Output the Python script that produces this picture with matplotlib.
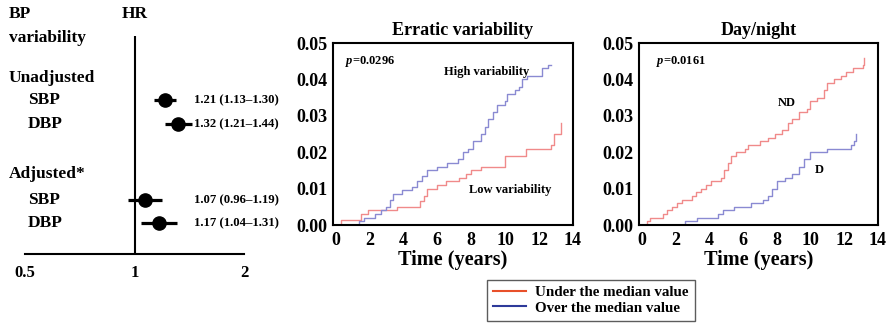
import matplotlib
matplotlib.use('Agg')
import matplotlib.pyplot as plt
from matplotlib.lines import Line2D
from matplotlib import transforms

plt.rcParams['font.family'] = ['Liberation Serif', 'DejaVu Serif']
plt.rcParams['font.weight'] = 'bold'
plt.rcParams['axes.titleweight'] = 'bold'
plt.rcParams['axes.labelweight'] = 'bold'
plt.rcParams['mathtext.fontset'] = 'custom'
plt.rcParams['mathtext.it'] = 'Liberation Serif:italic:bold'
plt.rcParams['mathtext.rm'] = 'Liberation Serif:bold'

# forest plot data
groups = ['Unadjusted', 'Adjusted*']
rows = ['SBP', 'DBP', 'SBP', 'DBP']
hr = [1.21, 1.32, 1.07, 1.17]
lo = [1.13, 1.21, 0.96, 1.04]
hi = [1.30, 1.44, 1.19, 1.31]
hr_ticks = [0.5, 1, 2]

# erratic variability curves (time in years, cumulative incidence)
low_t = [0, 0.3, 1.5, 1.9, 3.6, 5.0, 5.2, 5.4, 6.0, 6.5, 7.3, 7.7, 8.0, 8.6, 10.0, 11.2, 12.7, 12.9, 13.3]
low_y = [0, 0.0015, 0.003, 0.004, 0.005, 0.0065, 0.008, 0.010, 0.011, 0.012, 0.013, 0.014, 0.015, 0.016,
         0.019, 0.021, 0.022, 0.025, 0.028]
high_t = [0, 1.4, 1.7, 2.3, 2.7, 3.0, 3.2, 3.4, 3.9, 4.5, 4.8, 5.1, 5.4, 6.0, 6.6, 7.2, 7.5, 7.8, 8.1,
          8.6, 8.8, 9.0, 9.3, 9.5, 10.0, 10.1, 10.6, 10.8, 11.0, 11.3, 12.2, 12.5, 12.7]
high_y = [0, 0.001, 0.002, 0.003, 0.004, 0.005, 0.007, 0.0085, 0.0095, 0.0105, 0.012, 0.0135, 0.015,
          0.016, 0.017, 0.018, 0.020, 0.021, 0.023, 0.025, 0.027, 0.029, 0.031, 0.033, 0.034, 0.036,
          0.037, 0.038, 0.040, 0.041, 0.043, 0.044, 0.044]

# day/night curves
nd_t = [0, 0.3, 0.5, 1.3, 1.5, 1.8, 2.1, 2.4, 3.0, 3.2, 3.5, 3.8, 4.1, 4.7, 4.9, 5.1, 5.3, 5.6, 6.1,
        6.3, 7.0, 7.5, 7.9, 8.3, 8.7, 8.9, 9.3, 9.8, 10.0, 10.4, 10.8, 11.0, 11.4, 11.8, 12.1, 12.5,
        13.1, 13.2]
nd_y = [0, 0.001, 0.002, 0.003, 0.004, 0.005, 0.006, 0.007, 0.008, 0.009, 0.010, 0.011, 0.012, 0.013,
        0.015, 0.017, 0.019, 0.020, 0.021, 0.022, 0.023, 0.024, 0.025, 0.026, 0.028, 0.029, 0.031,
        0.032, 0.034, 0.035, 0.037, 0.039, 0.040, 0.041, 0.042, 0.043, 0.044, 0.046]
d_t = [0, 2.6, 3.3, 4.5, 4.8, 5.5, 6.5, 7.2, 7.5, 7.7, 8.0, 8.5, 8.9, 9.3, 9.6, 10.0, 11.0, 12.4,
       12.6, 12.7]
d_y = [0, 0.001, 0.002, 0.003, 0.004, 0.005, 0.006, 0.007, 0.008, 0.010, 0.012, 0.013, 0.014, 0.016,
       0.018, 0.020, 0.021, 0.022, 0.023, 0.025]

red_line = '#f08a8a'
blue_line = '#8a8ad2'
red_leg = '#e8502a'
blue_leg = '#2e3a9a'

fig = plt.figure(figsize=(8.9, 3.23), dpi=100)

# ---- forest plot ----
ax0 = fig.add_axes([25/890, 1-254/323, 219/890, 218/323])
ax0.set_xscale('log', base=2)
ax0.set_xlim(0.5, 2)
ax0.set_ylim(218/24, 0)
ypos = [2.67, 3.67, 6.83, 7.79]
blend = transforms.blended_transform_factory(ax0.transAxes, ax0.transData)
for i in range(len(hr)):
    ax0.plot([lo[i], hi[i]], [ypos[i], ypos[i]], color='black', lw=2.3, solid_capstyle='butt')
    ax0.plot(hr[i], ypos[i], 'o', color='black', ms=9.5)
    ax0.text(0.772, ypos[i], f'{hr[i]:.2f} ({lo[i]:.2f}\u2013{hi[i]:.2f})', transform=blend,
             fontsize=9.2, va='center', ha='left')
ax0.axvline(1, color='black', lw=1.5)
for s in ['top', 'right', 'left']:
    ax0.spines[s].set_visible(False)
ax0.spines['bottom'].set_linewidth(1.5)
ax0.set_yticks([])
ax0.set_xticks(hr_ticks)
ax0.set_xticklabels(['0.5', '1', '2'])
ax0.minorticks_off()
ax0.tick_params(axis='x', length=0, pad=8, labelsize=12)

tr = transforms.blended_transform_factory(fig.transFigure, ax0.transData)
fig.text(0.0101, -0.9, 'BP', transform=tr, fontsize=12.5, va='center')
fig.text(0.0101, 0.09, 'variability', transform=tr, fontsize=12.5, va='center')
ax0.text(1, -0.9, 'HR', fontsize=12.5, va='center', ha='center')
fig.text(0.0101, 1.75, groups[0], transform=tr, fontsize=12.5, va='center')
fig.text(0.0101, 5.75, groups[1], transform=tr, fontsize=12.5, va='center')
for i, r in enumerate(rows):
    fig.text(0.0315, ypos[i], r, transform=tr, fontsize=12.5, va='center')


def km_axes(rect, title, title_x):
    ax = fig.add_axes(rect)
    ax.set_xlim(-0.15, 14)
    ax.set_ylim(0, 0.05)
    ax.set_xticks(range(0, 15, 2))
    ax.set_yticks([0, 0.01, 0.02, 0.03, 0.04, 0.05])
    ax.set_yticklabels(['0.00', '0.01', '0.02', '0.03', '0.04', '0.05'])
    ax.tick_params(length=0, labelsize=13)
    ax.tick_params(axis='x', pad=5)
    ax.tick_params(axis='y', pad=4)
    for s in ax.spines.values():
        s.set_linewidth(1.5)
    ax.set_xlabel('Time (years)', fontsize=14.6, labelpad=1)
    ax.set_title(title, fontsize=13, x=title_x, pad=6)
    return ax


# ---- erratic variability ----
ax1 = km_axes([333/890, 1-225/323, 240/890, 182/323], 'Erratic variability', 0.54)
ax1.plot(low_t, low_y, drawstyle='steps-post', color=red_line, lw=1)
ax1.plot(high_t, high_y, drawstyle='steps-post', color=blue_line, lw=1)
ax1.text(0.05, 0.9, r'$p$=0.0296', transform=ax1.transAxes, fontsize=9, va='center')
ax1.text(0.64, 0.84, 'High variability', transform=ax1.transAxes, fontsize=9, ha='center', va='center')
ax1.text(0.74, 0.19, 'Low variability', transform=ax1.transAxes, fontsize=9, ha='center', va='center')

# ---- day/night ----
ax2 = km_axes([639/890, 1-225/323, 239/890, 182/323], 'Day/night', 0.5)
ax2.plot(nd_t, nd_y, drawstyle='steps-post', color=red_line, lw=1)
ax2.plot(d_t, d_y, drawstyle='steps-post', color=blue_line, lw=1)
ax2.text(0.07, 0.9, r'$p$=0.0161', transform=ax2.transAxes, fontsize=9, va='center')
ax2.text(0.62, 0.67, 'ND', transform=ax2.transAxes, fontsize=9, ha='center', va='center')
ax2.text(0.755, 0.3, 'D', transform=ax2.transAxes, fontsize=9, ha='center', va='center')

handles = [Line2D([], [], color=red_leg, lw=1.5), Line2D([], [], color=blue_leg, lw=1.5)]
leg = fig.legend(handles, ['Under the median value', 'Over the median value'],
                 loc='upper left', bbox_to_anchor=(487/890, 1-280/323), fontsize=10.8,
                 frameon=True, fancybox=False, edgecolor='#333333', borderaxespad=0,
                 handlelength=2.2, handletextpad=0.6, labelspacing=0.1, borderpad=0.4)
leg.get_frame().set_linewidth(1)

fig.savefig('out.png', dpi=100)
